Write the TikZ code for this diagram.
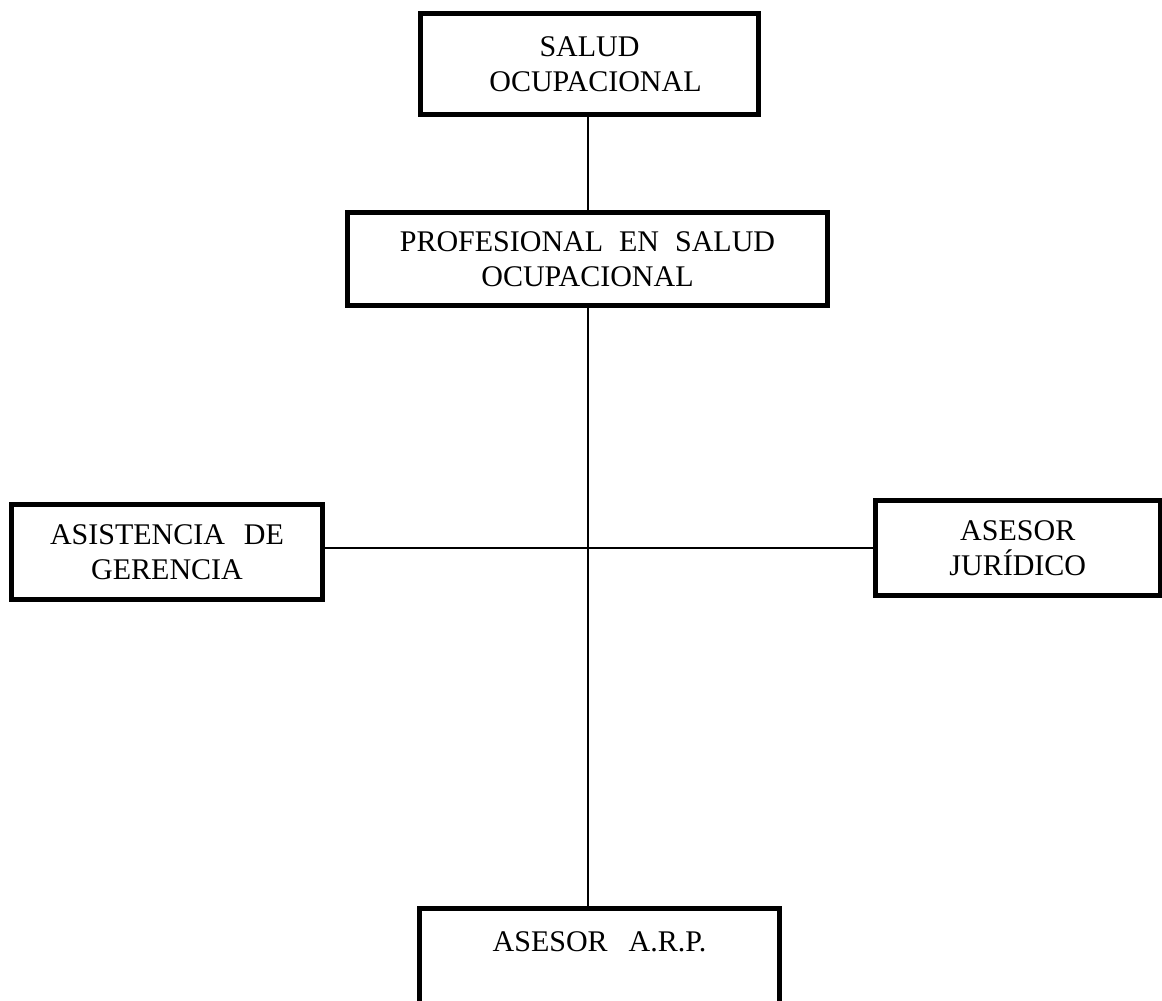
\documentclass[tikz,border=0pt]{standalone}
\usepackage{fontspec}
\setmainfont{Liberation Serif}
% wider word gap used inside the unit labels
\newcommand\wgap[1]{\hspace{#1pt}}
\begin{document}
\begin{tikzpicture}[x=1pt,y=-1pt,
  unit/.style={draw, line width=5pt, align=center, inner sep=0pt,
    font=\fontsize{30}{35}\selectfont},
  link/.style={line width=2pt}]
% page area
\fill[white] (0,0) rectangle (1162,1001);
\clip (0,0) rectangle (1162,1001);

% organisation units
\node[unit, minimum width=338pt, minimum height=101.5pt] (salud) at (589.5,64)
  {SALUD\\\hspace*{12pt}OCUPACIONAL};
\node[unit, minimum width=480pt, minimum height=93pt] (prof) at (587.5,259)
  {PROFESIONAL\wgap{16}EN\wgap{16}SALUD\\OCUPACIONAL};
\node[unit, minimum width=311pt, minimum height=94.5pt] (asist) at (167,552)
  {ASISTENCIA\wgap{19}DE\\GERENCIA};
\node[unit, minimum width=284.5pt, minimum height=94.5pt] (jur) at (1017.75,547.75)
  {ASESOR\\JURÍDICO};
\node[unit, minimum width=360pt, minimum height=101pt] (arp) at (599.5,959)
  {ASESOR\wgap{21}A.R.P.\\\phantom{A}};

% reporting lines
\draw[link] (salud.south -| prof.north) -- (prof.north);
\draw[link] (prof.south) -- (prof.south |- arp.north);
\draw[link] (asist.east |- jur.west) -- (jur.west);
\end{tikzpicture}
\end{document}
